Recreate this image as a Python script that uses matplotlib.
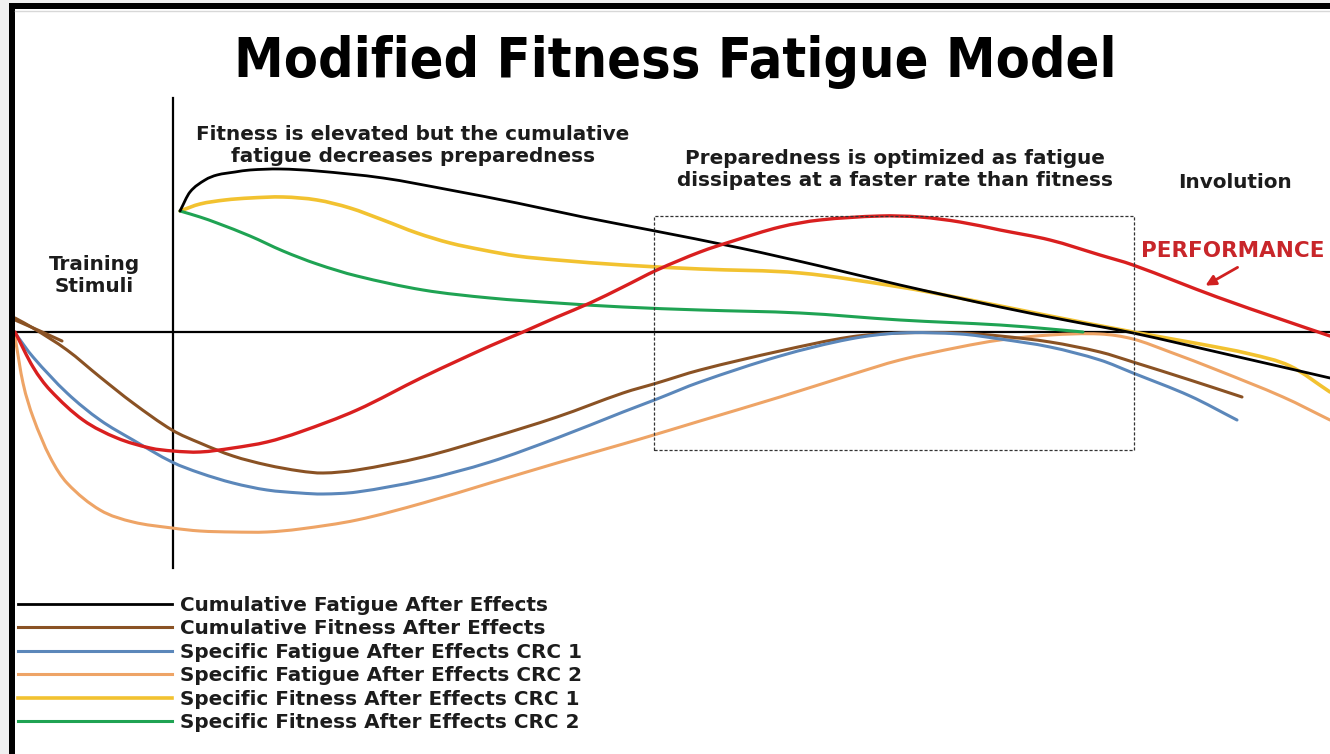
import numpy as np
import matplotlib
matplotlib.use("Agg")
import matplotlib.pyplot as plt
from matplotlib.patches import Rectangle, PathPatch
from matplotlib.path import Path
from matplotlib.lines import Line2D

# time axis (px from left) and levels relative to the baseline (up = positive)
fat_cum_x = [180, 190, 205, 217, 235, 250, 280, 317, 383, 450, 517, 583, 650, 740, 820, 900, 1000, 1070, 1133, 1230, 1330]
fat_cum_y = [121, 140, 152, 157, 160, 162, 163, 161, 154, 142, 129, 115, 102, 84, 66, 47, 25, 11, -1, -23, -46]

fit_crc1_x = [180, 200, 225, 250, 283, 317, 350, 383, 417, 450, 483, 517, 557, 623, 700, 800, 900, 960, 1050, 1133, 1200, 1250, 1290, 1330]
fit_crc1_y = [121, 128, 132, 134, 135, 132, 124, 112, 99, 89, 82, 76, 72, 67, 63, 59, 45, 34, 16, 0, -12, -22, -34, -60]

fit_crc2_x = [180, 200, 217, 250, 283, 317, 357, 423, 490, 557, 623, 700, 800, 900, 1000, 1050, 1083]
fit_crc2_y = [121, 115, 109, 96, 81, 68, 56, 42, 34, 29, 25, 22, 19, 12, 7, 3, 0]

perf_x = [15, 33, 50, 83, 117, 150, 173, 200, 233, 267, 300, 357, 423, 490, 523, 557, 590, 623, 657, 700, 733, 780, 820, 880, 920, 960, 1000, 1050, 1100, 1133, 1217, 1283, 1330]
perf_y = [0, -35, -58, -88, -106, -116, -119, -120, -116, -110, -100, -78, -45, -14, 0, 15, 29, 45, 62, 80, 91, 105, 112, 116, 115, 110, 102, 92, 77, 67, 35, 12, -4]

fit_cum_x = [15, 33, 67, 100, 133, 172, 200, 233, 267, 300, 323, 357, 423, 490, 557, 623, 657, 700, 780, 850, 900, 960, 1000, 1050, 1100, 1133, 1190, 1242]
fit_cum_y = [14, 4, -18, -45, -71, -98, -111, -124, -133, -139, -141, -138, -125, -106, -85, -61, -51, -38, -19, -5, -1, -1, -4, -10, -20, -30, -48, -65]
fit_cum_stub_x = [15, 40, 62]
fit_cum_stub_y = [12, 1, -9]

fat_crc1_x = [15, 33, 67, 100, 133, 172, 200, 233, 267, 300, 323, 357, 423, 490, 557, 623, 657, 700, 780, 850, 900, 960, 1000, 1050, 1100, 1133, 1190, 1237]
fat_crc1_y = [-1, -25, -61, -88, -108, -130, -141, -151, -158, -161, -162, -160, -148, -130, -106, -80, -67, -50, -24, -7, -1, -2, -7, -15, -28, -41, -64, -88]

fat_crc2_x = [15, 23, 33, 50, 67, 100, 133, 172, 200, 233, 267, 300, 357, 423, 490, 557, 623, 657, 700, 780, 850, 900, 960, 1000, 1050, 1100, 1133, 1170, 1217, 1283, 1330]
fat_crc2_y = [-5, -51, -85, -125, -151, -178, -190, -196, -199, -200, -200, -197, -188, -171, -151, -131, -112, -102, -89, -65, -43, -28, -15, -8, -3, -2, -7, -20, -38, -65, -88]

labels = ['Cumulative Fatigue After Effects', 'Cumulative Fitness After Effects',
          'Specific Fatigue After Effects CRC 1', 'Specific Fatigue After Effects CRC 2',
          'Specific Fitness After Effects CRC 1', 'Specific Fitness After Effects CRC 2']
colors = ['#000000', '#8a5224', '#5b87ba', '#eea466', '#f2c230', '#1fa353']

txtfont = ['DejaVu Sans']
txtcol = '#1c1c1c'
txtsize = 14.4


def curve(ax, xs, ys, color, lw, z):
    # smooth hermite path (in x) through the read points
    x = np.asarray(xs, float)
    y = np.asarray(ys, float)
    n = len(x)
    m = np.empty(n)
    m[0] = (y[1] - y[0]) / (x[1] - x[0])
    m[-1] = (y[-1] - y[-2]) / (x[-1] - x[-2])
    m[1:-1] = (y[2:] - y[:-2]) / (x[2:] - x[:-2])
    verts = [(x[0], y[0])]
    codes = [Path.MOVETO]
    for i in range(n - 1):
        h = (x[i + 1] - x[i]) / 3
        verts += [(x[i] + h, y[i] + m[i] * h), (x[i + 1] - h, y[i + 1] - m[i + 1] * h),
                  (x[i + 1], y[i + 1])]
        codes += [Path.CURVE4] * 3
    ax.add_patch(PathPatch(Path(verts, codes), fill=False, edgecolor=color, lw=lw,
                           capstyle='round', joinstyle='round', zorder=z))


fig = plt.figure(figsize=(13.3, 7.54), dpi=100, facecolor='#f0f0f0')
ax = fig.add_axes([0, 0, 1, 1])
ax.set_xlim(0, 1330)
ax.set_ylim(-422, 332)
ax.axis('off')

def Y(py):
    return 332 - py

# frame
ax.add_patch(Rectangle((15, Y(754)), 1315, 754 - 9, facecolor='white', edgecolor='none', zorder=0))
ax.add_patch(Rectangle((9, Y(754)), 6, 754 - 3, facecolor='black', edgecolor='none', zorder=5))
ax.add_patch(Rectangle((9, Y(9)), 1321, 6, facecolor='black', edgecolor='none', zorder=5))
ax.plot([15, 1330], [Y(10.5), Y(10.5)], color='#d8d8d8', lw=1, zorder=5)

# axes lines
ax.plot([15, 1330], [0, 0], color='black', lw=1.6, zorder=1)
ax.plot([173, 173], [Y(98), Y(568)], color='black', lw=1.6, zorder=1)

# dashed box
ax.add_patch(Rectangle((654, Y(450)), 480, 234, fill=False, edgecolor='#333333',
                       lw=0.9, linestyle=(0, (2.5, 1.5)), zorder=4))

series = [(fat_cum_x, fat_cum_y), (fit_cum_x, fit_cum_y), (fat_crc1_x, fat_crc1_y),
          (fat_crc2_x, fat_crc2_y), (fit_crc1_x, fit_crc1_y), (fit_crc2_x, fit_crc2_y)]
widths = [2.0, 2.2, 2.2, 2.2, 2.6, 2.2]
order = [3, 3, 3, 2, 2, 2]
handles = []
for (xs, ys), c, lab, w, z in zip(series, colors, labels, widths, order):
    curve(ax, xs, ys, c, w, z)
    handles.append(Line2D([], [], color=c, lw=w, label=lab))
curve(ax, fit_cum_stub_x, fit_cum_stub_y, colors[1], 2.2, 3)
curve(ax, perf_x, perf_y, '#d91f1f', 2.4, 3)

# title
ax.text(675, Y(62), 'Modified Fitness Fatigue Model', ha='center', va='center',
        fontsize=40, fontweight='heavy', fontstretch='condensed',
        family=['Liberation Sans Narrow', 'DejaVu Sans'], color='black')

# annotations
ax.text(413, Y(145), 'Fitness is elevated but the cumulative\nfatigue decreases preparedness',
        ha='center', va='center', fontsize=txtsize, fontweight='bold', family=txtfont,
        color=txtcol, linespacing=1.2)
ax.text(895, Y(170), 'Preparedness is optimized as fatigue\ndissipates at a faster rate than fitness',
        ha='center', va='center', fontsize=txtsize, fontweight='bold', family=txtfont,
        color=txtcol, linespacing=1.2)
ax.text(1235, Y(182), 'Involution', ha='center', va='center', fontsize=txtsize,
        fontweight='bold', family=txtfont, color=txtcol)
ax.text(94, Y(275), 'Training\nStimuli', ha='center', va='center', fontsize=txtsize,
        fontweight='bold', family=txtfont, color=txtcol, linespacing=1.2)
ax.text(1233, Y(251), 'PERFORMANCE', ha='center', va='center', fontsize=15.5,
        fontweight='bold', family=txtfont, color='#c8262a')
ax.annotate('', xy=(1203, Y(287)), xytext=(1240, Y(266)),
            arrowprops=dict(arrowstyle='-|>', color='#d02020', lw=2, mutation_scale=15))

leg = ax.legend(handles=handles, loc='upper left', bbox_to_anchor=(18 / 1330, 1 - 596 / 754),
                frameon=False, handlelength=7.7, handletextpad=0.4, labelspacing=0.22,
                borderpad=0, borderaxespad=0,
                prop={'family': txtfont, 'weight': 'bold', 'size': txtsize})
for t in leg.get_texts():
    t.set_color(txtcol)

fig.savefig('out.png', dpi=100, facecolor=fig.get_facecolor())
